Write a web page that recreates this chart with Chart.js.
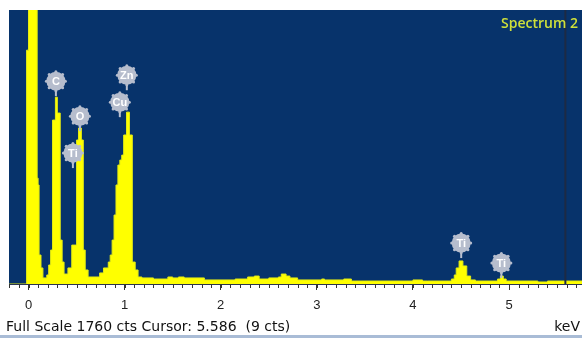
<!DOCTYPE html>
<html>
<head>
<meta charset="utf-8">
<script src="https://cdn.jsdelivr.net/npm/chart.js@4/dist/chart.umd.min.js"></script>
<style>
  html, body { margin: 0; padding: 0; background: #fff; }
  #wrap { position: relative; width: 582px; height: 338px; overflow: hidden; }
  #spec { position: absolute; right: 4px; top: 13px; font: 600 14px "Open Sans", sans-serif; color: #cfe03a; }
  #foot { position: absolute; left: 6px; top: 318px; font: 14px "DejaVu Sans", Verdana, sans-serif; color: #111; white-space: pre; }
  #unit { position: absolute; right: 2px; top: 318px; font: 14px "DejaVu Sans", Verdana, sans-serif; color: #111; }
  #edge { position: absolute; left: 0; right: 0; bottom: 0; height: 3px; background: #a9bcd6; }
</style>
</head>
<body>
<div id="wrap">
  <canvas id="eds" width="582" height="338"></canvas>
  <div id="spec">Spectrum 2</div>
  <div id="foot">Full Scale 1760 cts Cursor: 5.586  (9 cts)</div>
  <div id="unit">keV</div>
  <div id="edge"></div>
</div>
<script>
// channel start energies (keV) and counts held until the next channel
const energy = [-0.2, -0.02, 0.0, 0.09, 0.10, 0.11, 0.13, 0.15, 0.19, 0.21, 0.23,
  0.25, 0.28, 0.30, 0.33, 0.35, 0.37, 0.41, 0.45, 0.50, 0.52, 0.55, 0.57, 0.59, 0.62,
  0.74, 0.78, 0.83, 0.85, 0.87, 0.89, 0.91, 0.93, 0.95, 0.97, 0.99, 1.02, 1.05, 1.08,
  1.11, 1.14, 1.18, 1.30, 1.45, 1.50, 1.56, 1.62, 1.83, 2.15, 2.28, 2.35, 2.40, 2.50,
  2.60, 2.63, 2.68, 2.72, 2.80, 3.05, 3.08, 3.28, 3.36, 4.00, 4.10, 4.15, 4.40, 4.43,
  4.45, 4.48, 4.52, 4.56, 4.60, 4.65, 4.88, 4.91, 4.94, 4.97, 5.30, 5.40, 5.759];
const counts = [0, 1502, 2500, 680, 636, 186, 103, 39, 58, 122, 218,
  1053, 1200, 1098, 282, 141, 64, 103, 250, 925, 1002, 925, 218, 90, 45,
  71, 103, 141, 186, 282, 443, 636, 764, 796, 828, 957, 1104, 957, 141,
  90, 45, 39, 32, 45, 39, 45, 39, 26, 32, 45, 51, 32, 39,
  45, 64, 51, 39, 26, 32, 26, 32, 19, 26, 19, 19, 32, 58,
  103, 148, 116, 51, 26, 19, 32, 51, 32, 19, 13, 19, 19];

const peakLabels = ['C', 'O', 'Ti', 'Cu', 'Zn', 'Ti', 'Ti'];
const labelKeV = [0.285, 0.535, 0.462, 0.950, 1.023, 4.502, 4.92];
const labelCounts = [1303, 1078, 841, 1168, 1341, 263, 135];

const fullScale = 1760;
const cursorKeV = 5.586;
const navy = '#07336b';

const panelBg = {
  id: 'panelBg',
  beforeDraw(chart) {
    const { ctx, chartArea: a } = chart;
    ctx.save();
    ctx.fillStyle = navy;
    ctx.fillRect(a.left, a.top, a.right - a.left, a.bottom - a.top);
    ctx.restore();
  }
};

const extras = {
  id: 'extras',
  afterDraw(chart) {
    const { ctx, chartArea: a } = chart;
    const x = chart.scales.x, y = chart.scales.y;
    ctx.save();
    // minor ticks every 0.1 keV
    ctx.strokeStyle = '#333';
    ctx.lineWidth = 1;
    for (let i = -2; i <= 57; i++) {
      const px = Math.round(x.getPixelForValue(i / 10)) + 0.5;
      ctx.beginPath();
      ctx.moveTo(px, a.bottom);
      ctx.lineTo(px, a.bottom + 4);
      ctx.stroke();
    }
    // cursor
    const cx = x.getPixelForValue(cursorKeV);
    ctx.strokeStyle = '#1d2a44';
    ctx.lineWidth = 2;
    ctx.beginPath();
    ctx.moveTo(cx, a.top);
    ctx.lineTo(cx, a.bottom);
    ctx.stroke();
    // element markers
    peakLabels.forEach((t, i) => {
      const px = x.getPixelForValue(labelKeV[i]);
      const py = y.getPixelForValue(labelCounts[i]);
      ctx.strokeStyle = '#b9c0d0';
      ctx.lineWidth = 2;
      ctx.beginPath();
      ctx.moveTo(px, py + 8);
      ctx.lineTo(px, py + 15);
      ctx.stroke();
      ctx.fillStyle = '#b6bdcd';
      for (let k = 0; k < 8; k++) {
        const ang = k * Math.PI / 4;
        ctx.beginPath();
        ctx.arc(px + Math.cos(ang) * 9.5, py + Math.sin(ang) * 9.5, 1.5, 0, Math.PI * 2);
        ctx.fill();
      }
      ctx.beginPath();
      ctx.arc(px, py, 9.5, 0, Math.PI * 2);
      ctx.fill();
      ctx.fillStyle = '#ffffff';
      ctx.font = 'bold 11px "Liberation Sans", Arial, sans-serif';
      ctx.textAlign = 'center';
      ctx.textBaseline = 'middle';
      ctx.fillText(t, px, py + 0.5);
    });
    ctx.restore();
  }
};

new Chart(document.getElementById('eds'), {
  type: 'line',
  data: {
    datasets: [{
      data: energy.map((e, i) => ({ x: e, y: counts[i] })),
      stepped: true,
      fill: 'origin',
      backgroundColor: '#ffff00',
      borderColor: '#e4ec12',
      borderWidth: 1,
      pointRadius: 0
    }]
  },
  options: {
    responsive: false,
    animation: false,
    devicePixelRatio: 1,
    layout: { padding: { left: 9, top: 10, right: 0, bottom: 0 } },
    plugins: { legend: { display: false }, tooltip: { enabled: false } },
    scales: {
      x: {
        type: 'linear',
        min: -0.203,
        max: 5.759,
        afterFit: (s) => { s.height = 54; },
        ticks: {
          stepSize: 1,
          includeBounds: false,
          autoSkip: false,
          maxRotation: 0,
          padding: 8,
          color: '#222',
          font: { family: 'Liberation Sans', size: 13 }
        },
        grid: { drawOnChartArea: false, tickLength: 6, color: '#333' },
        border: { display: true, color: '#2a3550' }
      },
      y: { display: false, min: 0, max: fullScale }
    }
  },
  plugins: [panelBg, extras]
});
</script>
</body>
</html>
